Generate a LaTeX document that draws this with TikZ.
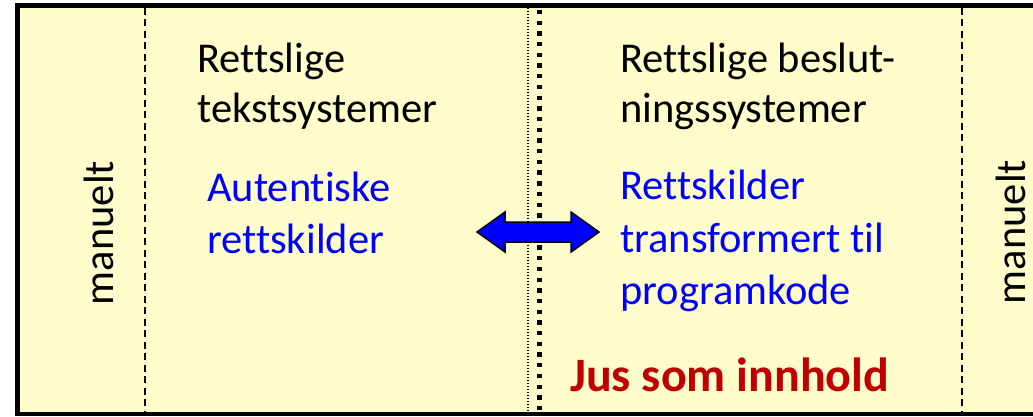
\documentclass[tikz,border=0pt]{standalone}
\usepackage{fontspec}
\setmainfont[Ligatures={NoCommon}]{Carlito}
\definecolor{bgyel}{RGB}{255,253,204}
\definecolor{txtblue}{RGB}{0,0,255}
\definecolor{jusred}{RGB}{192,0,0}
\begin{document}
\begin{tikzpicture}[x=1pt,y=-1pt,
  lbl/.style={inner sep=0pt,anchor=base west,font=\fontsize{42.5}{50}\selectfont},
  bluelbl/.style={lbl,text=txtblue},
  vlbl/.style={inner sep=0pt,rotate=90,font=\fontsize{42.5}{50}\selectfont},
  dashsep/.style={line width=1.5pt,dash pattern=on 7pt off 4.5pt},
  dotsep/.style={line width=1.2pt,dash pattern=on 1.3pt off 1.7pt},
  sqsep/.style={line width=4.3pt,dash pattern=on 4.3pt off 6.4pt}]
\useasboundingbox (0,0) rectangle (1033,417);
\begin{scope}
\clip (0,0) rectangle (1033,417);
\draw[line width=4.5pt,fill=bgyel] (17.5,5.5) rectangle (1045,414);
\coordinate (d1t) at (145,8);  \coordinate (d1b) at (145,412);
\coordinate (d2t) at (528,8);  \coordinate (d2b) at (528,412);
\coordinate (d3t) at (539.5,10); \coordinate (d3b) at (539.5,412);
\coordinate (d4t) at (962,8);  \coordinate (d4b) at (962,412);
\draw[dashsep] (d1t) -- (d1b);
\draw[dotsep] (d2t) -- (d2b);
\draw[sqsep] (d3t) -- (d3b);
\draw[dashsep] (d4t) -- (d4b);
\node[vlbl] (man1) at (99,233) {manuelt};
\node[vlbl] (man2) at (1011,232) {manuelt};
\end{scope}
\node[lbl] (l1a) at (197,73) {Rettslige};
\node[lbl] (l1b) at (197,123) {tekstsystemer};
\node[bluelbl] (b1a) at (207,201) {Autentiske};
\node[bluelbl] (b1b) at (207,253) {rettskilder};
\node[lbl] (r1a) at (620,73) {Rettslige beslut-};
\node[lbl] (r1b) at (620,123) {ningssystemer};
\node[bluelbl] (b2a) at (620,199) {Rettskilder};
\node[bluelbl] (b2b) at (620,252) {transformert til};
\node[bluelbl] (b2c) at (620,304) {programkode};
\node[inner sep=0pt,anchor=base west,text=jusred,font=\fontsize{48}{54}\selectfont\bfseries] (jus) at (570,391) {Jus som innhold};
\draw[line width=1.5pt,fill=txtblue,line join=miter]
  (477,232) -- (505,212) -- (505,222) -- (571,222) -- (571,212) -- (599,232)
  -- (571,252) -- (571,242) -- (505,242) -- (505,252) -- cycle;
\end{tikzpicture}
\end{document}
